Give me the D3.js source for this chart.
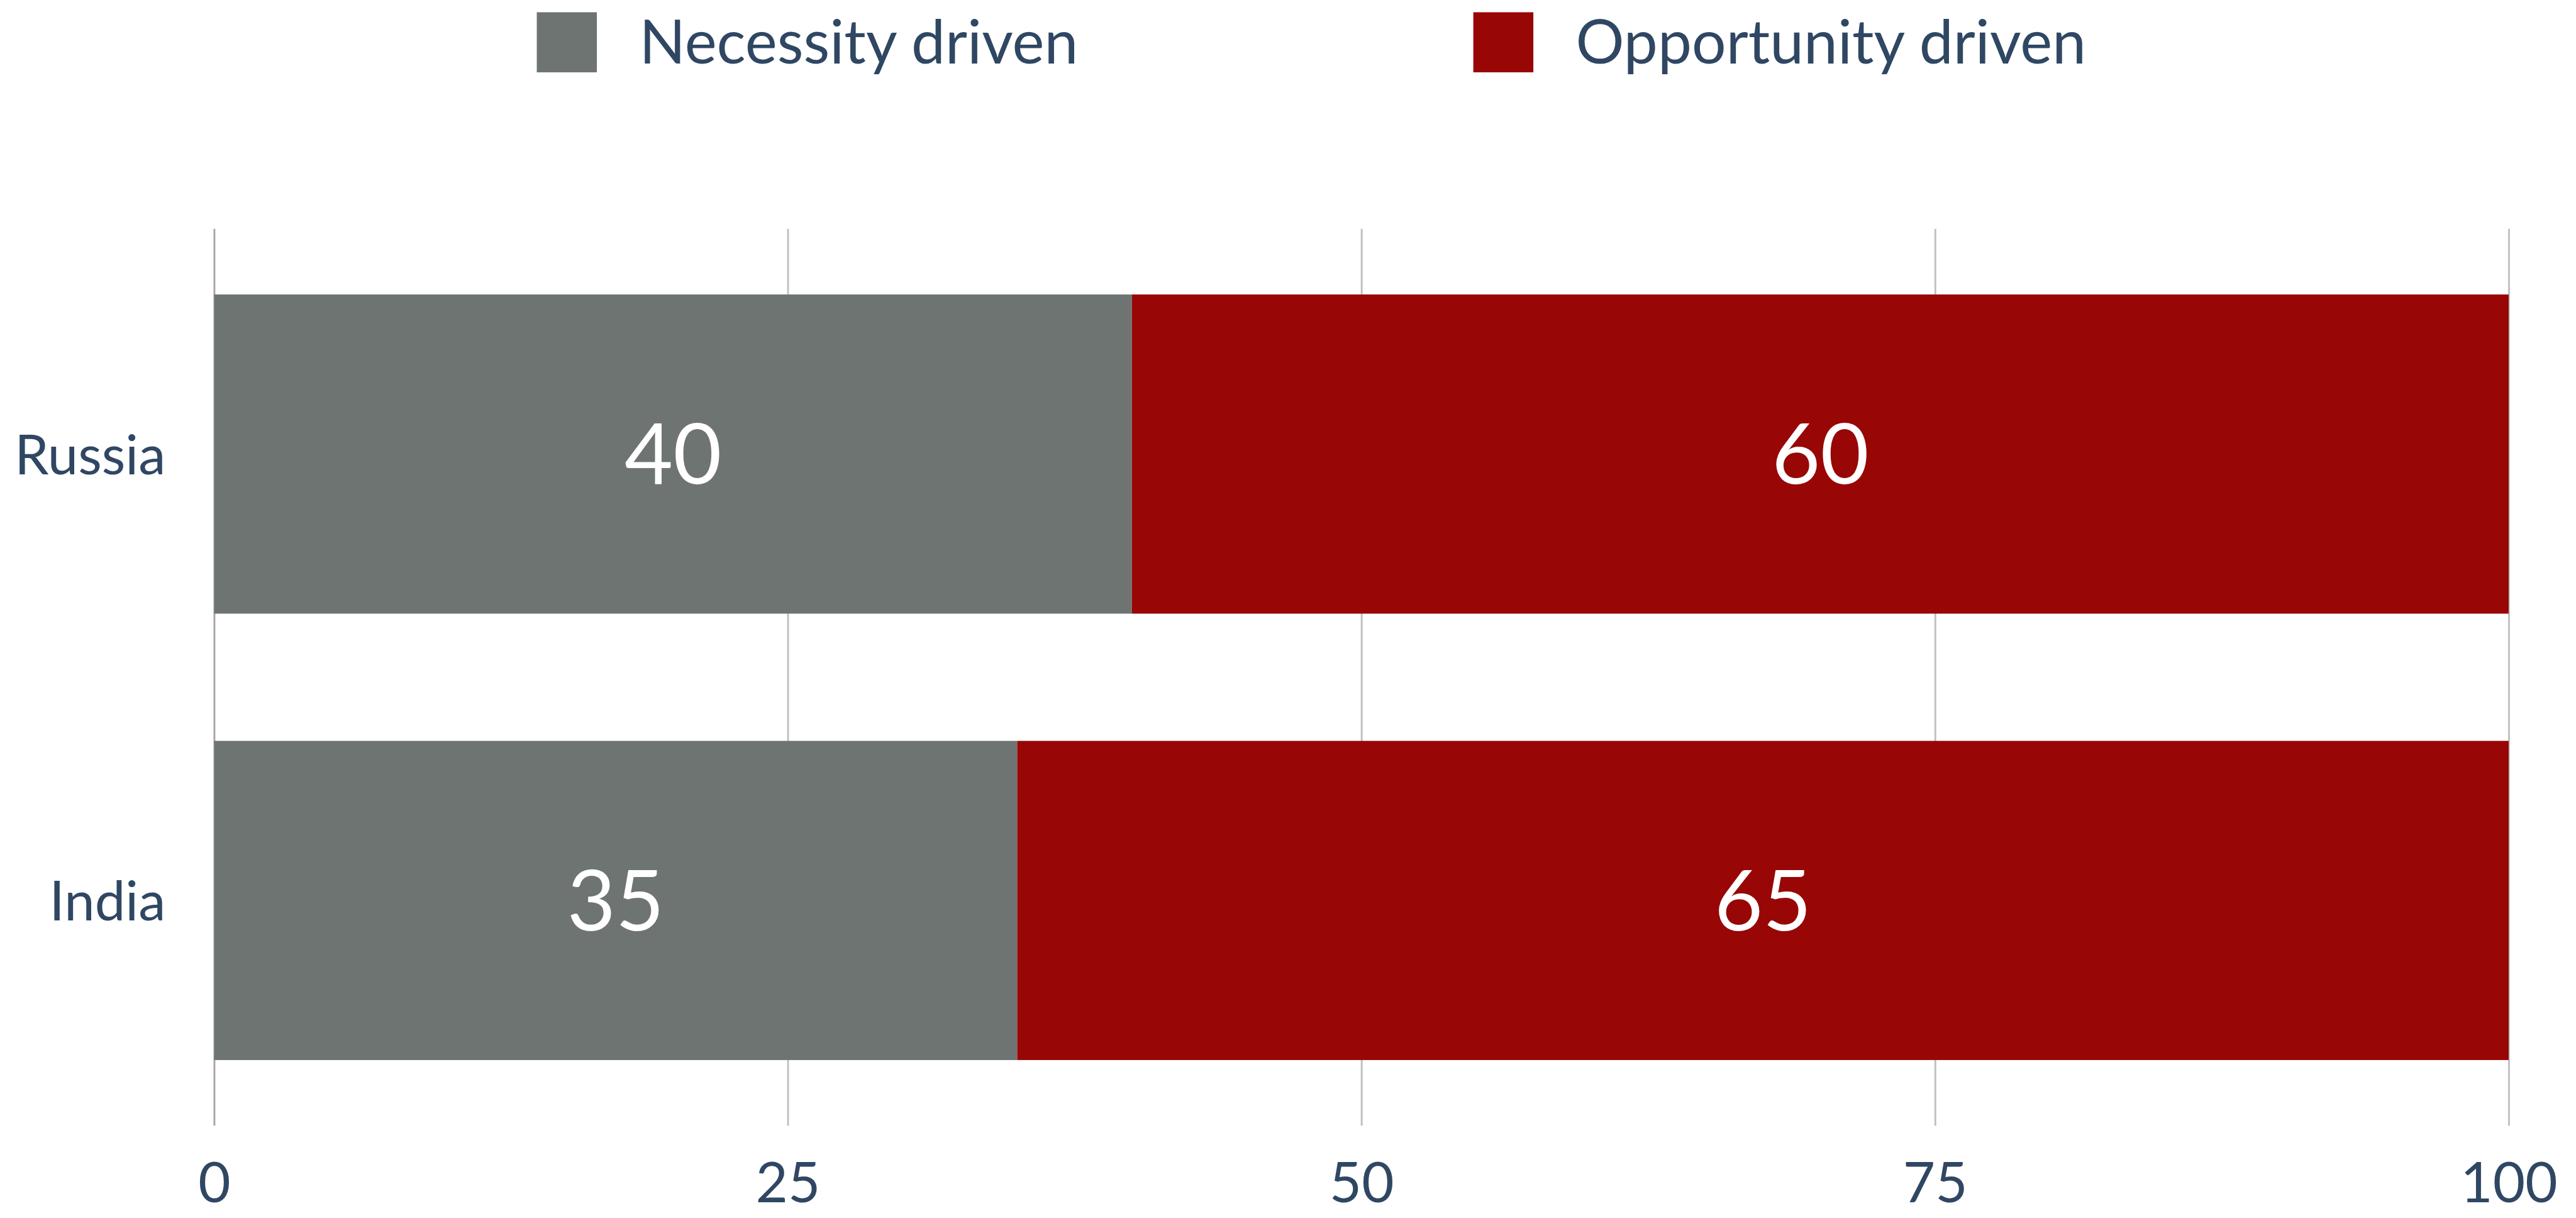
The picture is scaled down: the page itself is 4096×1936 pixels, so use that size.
<!DOCTYPE html>
<html>
<head>
<meta charset="utf-8">
<script src="https://cdn.jsdelivr.net/npm/d3@7"></script>
<style>
  html, body { margin: 0; padding: 0; background: #fff; overflow: hidden; }
  text { font-family: "Lato", "Open Sans", sans-serif; }
</style>
</head>
<body>
<div id="chart"></div>
<script>
"use strict";

// data
var countries   = ["Russia", "India"];
var necessity   = [40, 35];
var opportunity = [60, 65];
var seriesNames = ["Necessity driven", "Opportunity driven"];
var tickValues  = [0, 25, 50, 75, 100];

var colors   = ["#6e7471", "#980606"];
var textCol  = "#2f4763";

var drawChart = function() {

  // reference is 4247x2007, window is 4096x1936 -> viewBox does the 0.964 scale
  var W = 4247, H = 2007;
  var plotLeft = 353, plotRight = 4136, plotTop = 377, plotBottom = 1855;

  var svg = d3.select("#chart").append("svg")
    .attr("width", 4096)
    .attr("height", 1936)
    .attr("viewBox", "0 0 " + W + " " + H);

  var x = d3.scaleLinear().domain([0, 100]).range([plotLeft, plotRight]);
  var y = d3.scaleBand().domain(countries).range([plotTop, plotBottom])
    .paddingInner(0.285).paddingOuter(0.147);

  // grid + tick labels
  var axis = d3.axisBottom(x)
    .tickValues(tickValues)
    .tickSize(-(plotBottom - plotTop))
    .tickFormat(d3.format("d"));

  var gAxis = svg.append("g")
    .attr("transform", "translate(0," + plotBottom + ")")
    .call(axis);

  gAxis.select(".domain").remove();
  gAxis.selectAll(".tick line")
    .attr("stroke", function(d) { return d === 0 ? "#a9a59f" : "#bfbfbf"; })
    .attr("stroke-width", 3);
  gAxis.selectAll(".tick text")
    .attr("y", 126)
    .attr("dy", 0)
    .attr("fill", textCol)
    .attr("font-size", 92);

  // stacked bars
  var rows = countries.map(function(c, i) {
    return { country: c, parts: [
      { x0: 0, x1: necessity[i], v: necessity[i], s: 0, country: c },
      { x0: necessity[i], x1: necessity[i] + opportunity[i], v: opportunity[i], s: 1, country: c }
    ]};
  });

  var row = svg.selectAll(".row")
    .data(rows)
    .enter().append("g")
    .attr("class", "row");

  row.selectAll("rect")
    .data(function(d) { return d.parts; })
    .enter().append("rect")
    .attr("x", function(d) { return x(d.x0); })
    .attr("width", function(d) { return x(d.x1) - x(d.x0); })
    .attr("y", function(d) { return y(d.country); })
    .attr("height", y.bandwidth())
    .attr("fill", function(d) { return colors[d.s]; });

  row.selectAll(".val")
    .data(function(d) { return d.parts; })
    .enter().append("text")
    .attr("class", "val")
    .attr("x", function(d) { return (x(d.x0) + x(d.x1)) / 2; })
    .attr("y", function(d) { return y(d.country) + y.bandwidth() / 2 + 49; })
    .attr("text-anchor", "middle")
    .attr("fill", "#fff")
    .attr("font-size", 138)
    .text(function(d) { return d.v; });

  // category labels
  svg.selectAll(".cat")
    .data(countries)
    .enter().append("text")
    .attr("class", "cat")
    .attr("x", 273)
    .attr("y", function(d) { return y(d) + y.bandwidth() / 2 + 33; })
    .attr("text-anchor", "end")
    .attr("fill", textCol)
    .attr("font-size", 90)
    .text(function(d) { return d; });

  // legend
  var legendX = [885, 2429];
  var legend = svg.selectAll(".legend")
    .data(seriesNames)
    .enter().append("g")
    .attr("class", "legend")
    .attr("transform", function(d, i) { return "translate(" + legendX[i] + ",0)"; });

  legend.append("rect")
    .attr("x", 0)
    .attr("y", 20)
    .attr("width", 99)
    .attr("height", 99)
    .attr("fill", function(d, i) { return colors[i]; });

  legend.append("text")
    .attr("x", 169)
    .attr("y", 105)
    .attr("fill", textCol)
    .attr("font-size", 100)
    .text(function(d) { return d; });
};

drawChart();
</script>
</body>
</html>
